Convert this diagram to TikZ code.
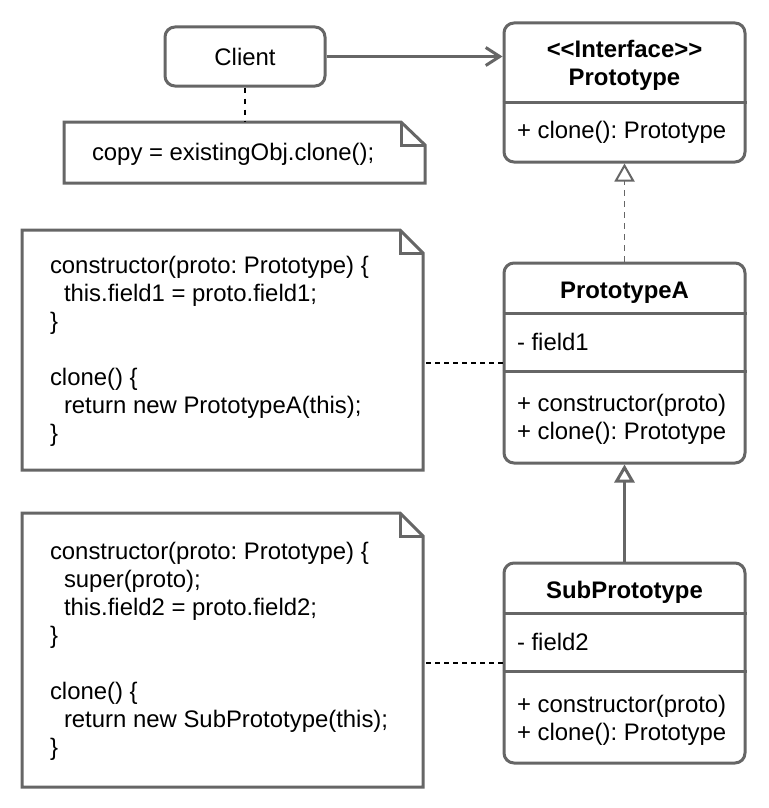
\documentclass[tikz,border=0pt]{standalone}
\usepackage{fontspec}
\setmainfont{Liberation Sans}
\usetikzlibrary{arrows.meta}
\definecolor{lc}{HTML}{666666}
\frenchspacing
\begin{document}
\begin{tikzpicture}[x=1pt,y=-1pt,
  txt/.style={font=\fontsize{23.9}{28}\selectfont, inner sep=0pt, outer sep=0pt},
  ttl/.style={txt, font=\fontsize{23.9}{28}\selectfont\bfseries, anchor=base},
  mem/.style={txt, anchor=base west},
  cls/.style={draw=lc, line width=3pt, rounded corners=10pt, fill=white, minimum width=241pt, inner sep=0pt},
  clientbox/.style={draw=lc, line width=3pt, rounded corners=10pt, fill=white, minimum width=160pt, minimum height=59pt, inner sep=0pt, font=\fontsize{23.9}{28}\selectfont},
  notebox/.style={inner sep=0pt, outer sep=0pt},
  noteline/.style={draw=lc, line width=3pt, line join=miter},
  sepline/.style={draw=lc, line width=3pt},
  notelink/.style={draw=black, line width=1.3pt, dash pattern=on 5pt off 4pt},
  uses/.style={draw=lc, line width=3pt, -{Straight Barb[length=14pt,width=18pt]}},
  realizes/.style={draw=lc, line width=1.8pt, dash pattern=on 6pt off 5pt, -{Triangle[length=18pt,width=20pt,fill=white,line width=2pt]}},
  inherits/.style={draw=lc, line width=3pt, -{Triangle[length=18pt,width=20pt,fill=white]}}
]
\fill[white] (0,0) rectangle (768,808);
\useasboundingbox (0,0) rectangle (768,808);

% ---------- Client ----------
\node[clientbox] (client) at (245,56.5) {Client};

% ---------- Note 1 ----------
\node[notebox, minimum width=361pt, minimum height=61pt] (note1) at (244.5,152.5) {};
\draw[noteline] (note1.north west) -- ([xshift=-24pt]note1.north east) -- ([yshift=-23pt]note1.north east) -- (note1.south east) -- (note1.south west) -- cycle;
\draw[noteline] ([xshift=-24pt]note1.north east) -- ([xshift=-24pt,yshift=-23pt]note1.north east) -- ([yshift=-23pt]note1.north east);
\node[mem] (t1) at (92,160) {copy = existingObj.clone();};

% ---------- Prototype interface ----------
\node[cls, minimum height=139pt] (proto) at (624.5,92.5) {};
\draw[sepline] (proto.west |- 0,102) -- (proto.east |- 0,102);
\node[ttl] (protoS) at (624.5,57) {<\kern0pt<Interface>\kern0pt>};
\node[ttl] (protoN) at (624.5,85) {Prototype};
\node[mem] (protoM) at (517,138) {+ clone(): Prototype};

% ---------- PrototypeA ----------
\node[cls, minimum height=200pt] (pA) at (624.5,363) {};
\draw[sepline] (pA.west |- 0,313) -- (pA.east |- 0,313);
\draw[sepline] (pA.west |- 0,371) -- (pA.east |- 0,371);
\node[ttl] (pAN) at (624.5,298) {PrototypeA};
\node[mem] (pAF) at (517,350) {- field1};
\node[mem] (pAM1) at (517,411) {+ constructor(proto)};
\node[mem] (pAM2) at (517,439) {+ clone(): Prototype};

% ---------- SubPrototype ----------
\node[cls, minimum height=200pt] (sub) at (624.5,663) {};
\draw[sepline] (sub.west |- 0,613) -- (sub.east |- 0,613);
\draw[sepline] (sub.west |- 0,671) -- (sub.east |- 0,671);
\node[ttl] (subN) at (624.5,598) {SubPrototype};
\node[mem] (subF) at (517,650) {- field2};
\node[mem] (subM1) at (517,712) {+ constructor(proto)};
\node[mem] (subM2) at (517,740) {+ clone(): Prototype};

% ---------- Note 2 ----------
\node[notebox, minimum width=401pt, minimum height=240pt] (note2) at (222.5,350) {};
\draw[noteline] (note2.north west) -- ([xshift=-23pt]note2.north east) -- ([yshift=-23pt]note2.north east) -- (note2.south east) -- (note2.south west) -- cycle;
\draw[noteline] ([xshift=-23pt]note2.north east) -- ([xshift=-23pt,yshift=-23pt]note2.north east) -- ([yshift=-23pt]note2.north east);
\node[mem] (t2) at (50,273) {\begin{tabular}[t]{@{}l@{}}
constructor(proto: Prototype) \{\\
\hspace*{14pt}this.field1 = proto.field1;\\
\}\\
\\
clone() \{\\
\hspace*{14pt}return new PrototypeA(this);\\
\}
\end{tabular}};

% ---------- Note 3 ----------
\node[notebox, minimum width=401pt, minimum height=274pt] (note3) at (222.5,650) {};
\draw[noteline] (note3.north west) -- ([xshift=-23pt]note3.north east) -- ([yshift=-23pt]note3.north east) -- (note3.south east) -- (note3.south west) -- cycle;
\draw[noteline] ([xshift=-23pt]note3.north east) -- ([xshift=-23pt,yshift=-23pt]note3.north east) -- ([yshift=-23pt]note3.north east);
\node[mem] (t3) at (50,559) {\begin{tabular}[t]{@{}l@{}}
constructor(proto: Prototype) \{\\
\hspace*{14pt}super(proto);\\
\hspace*{14pt}this.field2 = proto.field2;\\
\}\\
\\
clone() \{\\
\hspace*{14pt}return new SubPrototype(this);\\
\}
\end{tabular}};

% ---------- Connectors ----------
\draw[uses] (client.east) -- (client.east -| proto.west);
\draw[draw=black, line width=2.2pt, dash pattern=on 5pt off 6pt] (client.south) -- (client.south |- note1.north);
\draw[realizes] (pA.north) -- (proto.south);
\draw[inherits] (sub.north) -- (pA.south);
\draw[notelink] (pA.west) -- (pA.west -| note2.east);
\draw[notelink] (sub.west) -- (sub.west -| note3.east);
\end{tikzpicture}
\end{document}
